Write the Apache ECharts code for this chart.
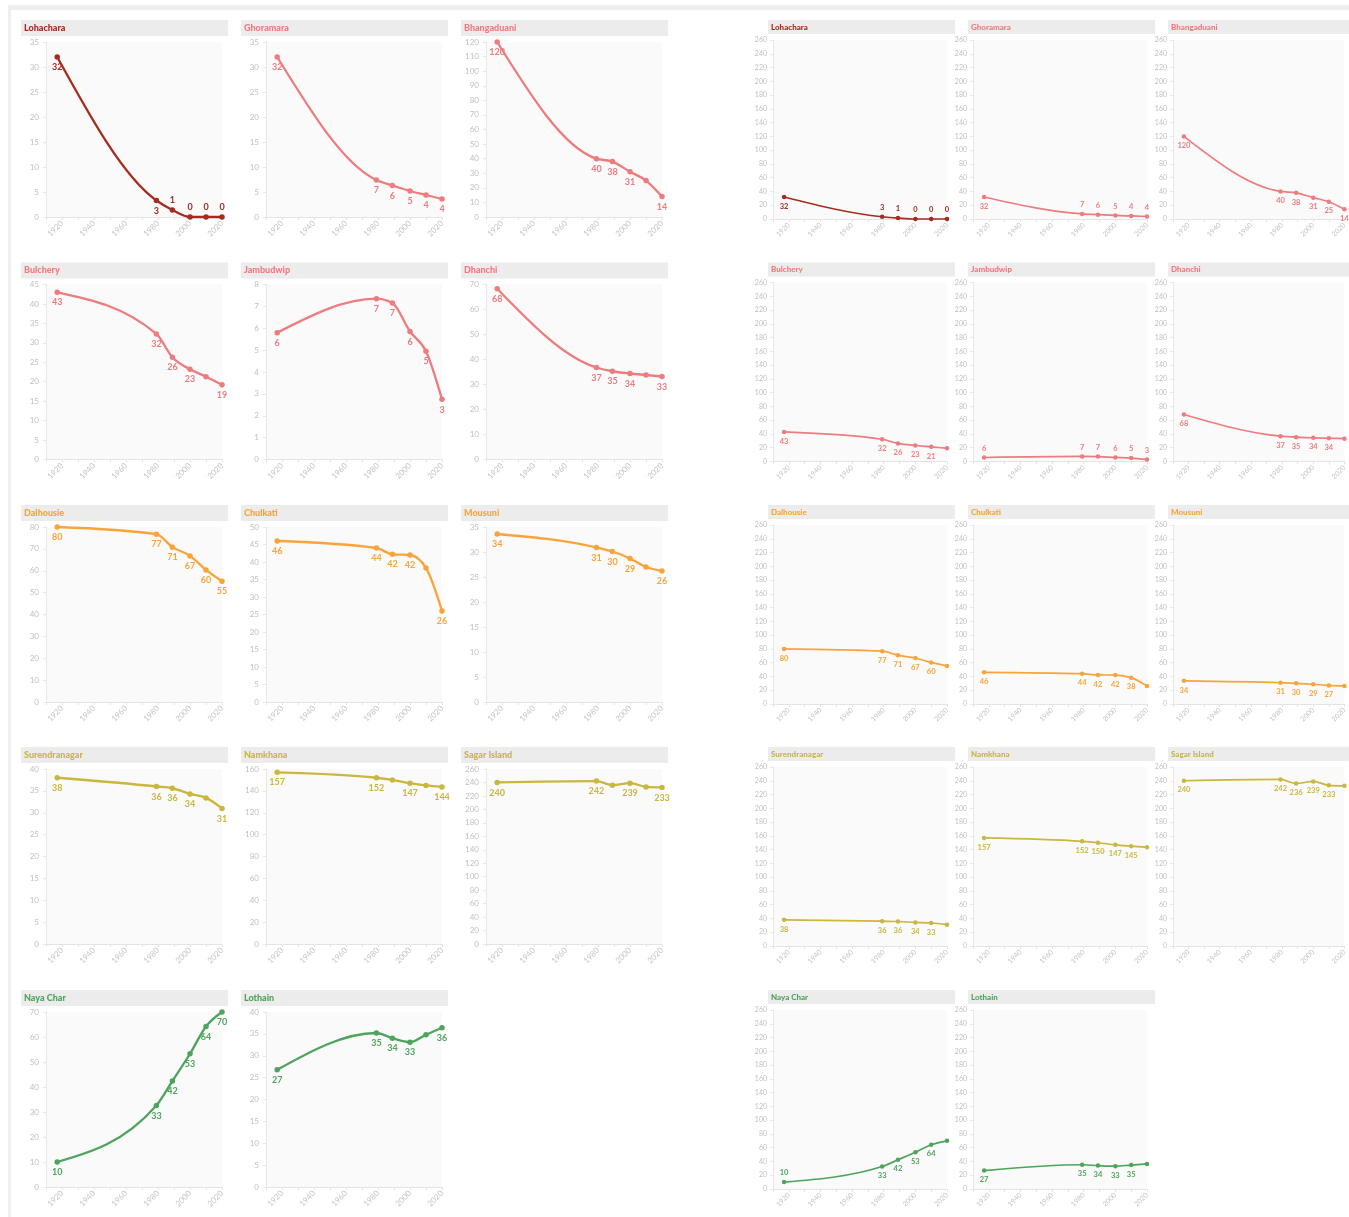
<!DOCTYPE html>
<html>
<head>
<meta charset="utf-8">
<script src="https://cdn.jsdelivr.net/npm/echarts@6/dist/echarts.min.js"></script>
<style>
html,body{margin:0;padding:0;background:#fff;}
#chart{width:1349px;height:1217px;}
</style>
</head>
<body>
<div id="chart"></div>
<script>
// ---- data ----
const years = [1917, 1979, 1989, 2000, 2010, 2020];
const islands = ['Lohachara','Ghoramara','Bhangaduani','Bulchery','Jambudwip','Dhanchi','Dalhousie','Chulkati','Mousuni','Surendranagar','Namkhana','Sagar Island','Naya Char','Lothain'];
const lohachara     = [32, 3.3, 1.4, 0, 0, 0];
const ghoramara     = [32, 7.4, 6.3, 5.2, 4.4, 3.6];
const bhangaduani   = [120, 40, 38, 31, 25, 14];
const bulchery      = [43, 32.3, 26.3, 23.2, 21.3, 19.2];
const jambudwip     = [5.8, 7.35, 7.15, 5.85, 4.95, 2.75];
const dhanchi       = [68.3, 36.8, 35.3, 34.4, 33.8, 33.2];
const dalhousie     = [80, 76.7, 70.8, 66.8, 60.4, 55.2];
const chulkati      = [46, 44, 42.2, 42, 38.3, 26];
const mousuni       = [33.6, 30.9, 30.1, 28.7, 27, 26.2];
const surendranagar = [38, 36, 35.6, 34.3, 33.4, 31];
const namkhana      = [157, 152, 150, 147, 145, 143.6];
const sagarIsland   = [240, 242, 236, 239, 233.4, 232.6];
const nayaChar      = [10, 32.6, 42.4, 53.3, 64.2, 70];
const lothain       = [26.8, 35.2, 34, 33.1, 34.8, 36.4];
const seriesValues = [lohachara, ghoramara, bhangaduani, bulchery, jambudwip, dhanchi, dalhousie, chulkati, mousuni, surendranagar, namkhana, sagarIsland, nayaChar, lothain];
// left panel y-axis tick settings (max, step)
const leftYMax  = [35, 35, 120, 45, 8, 70, 80, 50, 35, 40, 160, 260, 70, 40];
const leftYStep = [5, 5, 10, 5, 1, 10, 10, 5, 5, 5, 20, 20, 10, 5];
// right panel shared y-axis
const rightYMax = 260, rightYStep = 20;
// x-axis ticks
const xMin = 1910, xMax = 2020, xStep = 10, xLabelEvery = 20;

// ---- styles ----
const groupColor = ['#a82a1e','#ee7b7e','#ee7b7e','#ee7b7e','#ee7b7e','#ee7b7e','#f9a43a','#f9a43a','#f9a43a','#c9b73f','#c9b73f','#c9b73f','#4ea45c','#4ea45c'];
const FONT = 'Lato, "Noto Sans", sans-serif';
// value labels that the reference leaves out (collisions), by point index
const hiddenLeft  = {2:[4], 3:[4], 5:[4], 7:[4], 8:[4], 9:[4], 10:[2,4], 11:[2,4], 13:[4]};
const hiddenRight = {3:[5], 5:[5], 6:[5], 7:[5], 8:[5], 9:[5], 10:[5], 11:[5], 12:[5], 13:[5]};

const leftColX = [21, 241, 461];
const rightColX = [768, 968, 1168];
const rowY = [20, 262.5, 505, 747, 990];

const grids = [], xAxes = [], yAxes = [], series = [], graphics = [];

graphics.push({type:'rect', shape:{x:10, y:5, width:1339, height:5}, style:{fill:'#efefef'}, silent:true});
graphics.push({type:'rect', shape:{x:8, y:5, width:3, height:1212}, style:{fill:'#efefef'}, silent:true});

// monotone-x cubic curve through pixel points
function monotonePath(pts) {
  const n = pts.length, h = [], s = [], t = new Array(n);
  for (let i = 0; i < n - 1; i++) { h[i] = pts[i+1][0] - pts[i][0]; s[i] = (pts[i+1][1] - pts[i][1]) / h[i]; }
  for (let i = 1; i < n - 1; i++) {
    const p = (s[i-1] * h[i] + s[i] * h[i-1]) / (h[i-1] + h[i]);
    t[i] = (Math.sign(s[i-1]) + Math.sign(s[i])) * Math.min(Math.abs(s[i-1]), Math.abs(s[i]), 0.5 * Math.abs(p)) || 0;
  }
  t[0] = (3 * s[0] - t[1]) / 2;
  t[n-1] = (3 * s[n-2] - t[n-2]) / 2;
  let d = 'M' + pts[0][0] + ' ' + pts[0][1];
  for (let i = 0; i < n - 1; i++) {
    const dx = h[i] / 3;
    d += ' C' + (pts[i][0] + dx) + ' ' + (pts[i][1] + dx * t[i]) + ' ' + (pts[i+1][0] - dx) + ' ' + (pts[i+1][1] - dx * t[i+1]) + ' ' + pts[i+1][0] + ' ' + pts[i+1][1];
  }
  return d;
}

function addFacet(i, panel) {
  const col = i % 3, row = Math.floor(i / 3);
  const isLeft = panel === 'left';
  const cx = isLeft ? leftColX[col] : rightColX[col];
  const ry = rowY[row];
  const ymax = isLeft ? leftYMax[i] : rightYMax;
  const ystep = isLeft ? leftYStep[i] : rightYStep;
  const color = groupColor[i];
  const barW = isLeft ? 207 : 187;
  const barH = isLeft ? 16 : 14;
  const hidden = (isLeft ? hiddenLeft : hiddenRight)[i] || [];
  graphics.push({type:'rect', shape:{x:cx, y:ry, width:barW, height:barH}, style:{fill:'#ececec'}, silent:true, z:1});
  graphics.push({type:'text', x:cx+3, y:ry + barH/2, z:2, silent:true,
    style:{text:islands[i], fill:color, font:'900 ' + (isLeft ? 9 : 8) + 'px ' + FONT, textVerticalAlign:'middle'}});
  const gi = grids.length;
  grids.push(isLeft
    ? {left: cx+25, top: ry+22, width: 176, height: 175, show:true, backgroundColor:'#fafafa', borderWidth:0}
    : {left: cx+5, top: ry+20, width: 174, height: 179, show:true, backgroundColor:'#fafafa', borderWidth:0});
  const fs = isLeft ? 8 : 7;
  xAxes.push({gridIndex:gi, type:'value', min:xMin, max:xMax, interval:xStep,
    axisLine:{show:true, lineStyle:{color:'#e4e4e4'}},
    axisTick:{show:true, length:3, lineStyle:{color:'#e4e4e4'}},
    splitLine:{show:false},
    axisLabel:{rotate:45, fontSize:fs, color:'#c4c4c4', fontFamily:FONT, margin:5,
      formatter: v => (v % xLabelEvery === 0 ? String(v) : '')}});
  yAxes.push({gridIndex:gi, type:'value', min:0, max:ymax, interval:ystep,
    axisLine:{show:true, lineStyle:{color:'#e8e8e8'}},
    axisTick:{show:true, length:3, lineStyle:{color:'#e8e8e8'}},
    splitLine:{show:false},
    axisLabel:{fontSize:fs, color:'#c0c0c0', fontFamily:FONT, margin:isLeft ? 7 : 6}});
  const vals = seriesValues[i];
  const pointData = vals.map((v, k) => [years[k], v]);
  const lw = isLeft ? 2.3 : 1.7;
  series.push({type:'custom', xAxisIndex:gi, yAxisIndex:gi, data:pointData, encode:{x:0, y:1}, z:2,
    silent:true, animation:false,
    renderItem: function (params, api) {
      if (params.dataIndex !== 0) return null;
      const pts = pointData.map(p => api.coord(p));
      return {type:'path', shape:{pathData: monotonePath(pts)},
        style:{stroke:color, fill:null, lineWidth:lw, lineJoin:'round', lineCap:'round'}};
    }});
  series.push({type:'scatter', xAxisIndex:gi, yAxisIndex:gi, z:3,
    data: pointData.map((p, k) => ({value:p, label:{show: hidden.indexOf(k) < 0, position: p[1] / ymax < 0.05 ? 'top' : 'bottom'}})),
    symbol:'circle', symbolSize: isLeft ? 5.5 : 4.5,
    itemStyle:{color:color, opacity:1},
    label:{show:true, color:color, fontWeight:'bold', fontFamily:FONT, fontSize: isLeft ? 9 : 7.5, distance:3,
      formatter: p => String(Math.round(p.value[1]))},
    animation:false});
}

for (let i = 0; i < islands.length; i++) addFacet(i, 'left');
for (let i = 0; i < islands.length; i++) addFacet(i, 'right');

const chart = echarts.init(document.getElementById('chart'), null, {renderer:'canvas'});
chart.setOption({
  animation:false,
  backgroundColor:'#ffffff',
  grid:grids, xAxis:xAxes, yAxis:yAxes, series:series, graphic:graphics
});
</script>
</body>
</html>
